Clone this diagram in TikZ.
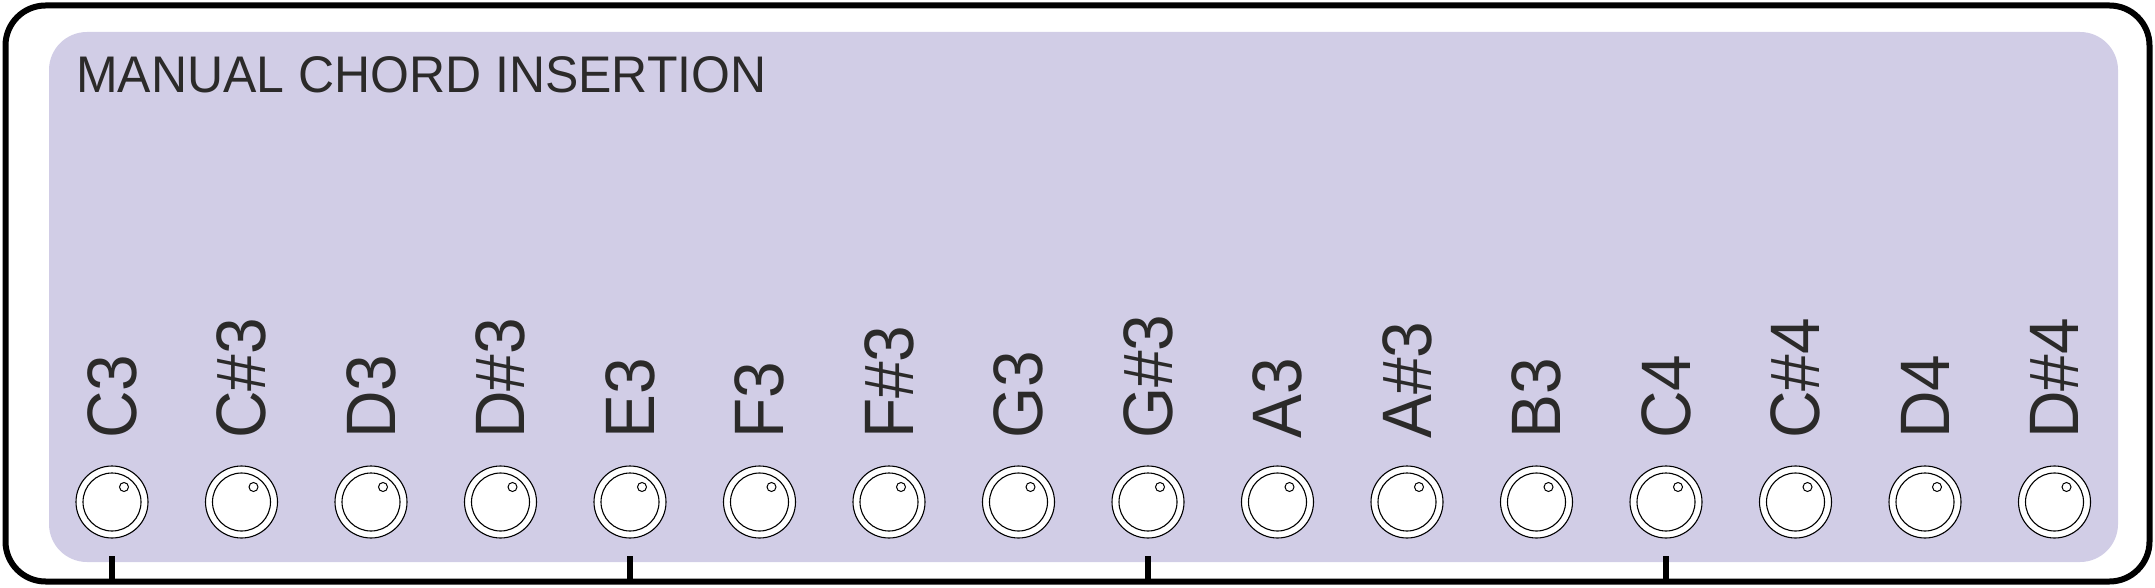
\documentclass[tikz,border=0pt]{standalone}
\usepackage{fontspec}
\setmainfont{Liberation Sans}
\newfontfamily\labfont[FakeStretch=0.94]{Liberation Sans}
\newfontfamily\titfont[FakeStretch=0.97]{Liberation Sans}
\definecolor{panel}{HTML}{D1CDE6}
\definecolor{ink}{HTML}{2B2A29}
\begin{document}
\begin{tikzpicture}[x=1pt,y=1pt,
  frame/.style={draw=black,line width=6pt,rounded corners=40pt},
  panelbox/.style={fill=panel,rounded corners=38pt},
  knobring/.style={circle,draw=black,line width=1.1pt,fill=white,minimum size=72pt,inner sep=0pt},
  knobcap/.style={circle,draw=black,line width=1.1pt,fill=white,minimum size=58pt,inner sep=0pt},
  knobdot/.style={circle,draw=black,line width=1pt,fill=white,minimum size=9pt,inner sep=0pt},
  notelabel/.style={rotate=90,anchor=base west,inner sep=0pt,text=ink,font=\labfont\fontsize{70}{70}\selectfont},
  titlelabel/.style={anchor=base west,inner sep=0pt,text=ink,font=\titfont\fontsize{51.5}{51.5}\selectfont},
  tickline/.style={draw=black,line width=6pt}]
\useasboundingbox (0,0) rectangle (2155,587);
\fill[panelbox] (49,25) rectangle (2118,555);
\node[titlelabel] (title) at (76,494) {MANUAL CHORD INSERTION};
\foreach \n [count=\i from 0] in {C3,C\#3,D3,D\#3,E3,F3,F\#3,G3,G\#3,A3,A\#3,B3,C4,C\#4,D4,D\#4}{
  \pgfmathsetmacro{\kx}{112+129.5*\i}
  \node[knobring] (k\i) at (\kx,85) {};
  \node[knobcap] (c\i) at (k\i.center) {};
  \node[knobdot] (d\i) at ([shift={(12,15)}]k\i.center) {};
  \node[notelabel] (l\i) at ([shift={(24,63)}]k\i.center) {\n};
}
\draw[frame] (5.5,5.5) rectangle (2149.5,581.5);
\foreach \i in {0,4,8,12}{
  \coordinate (ta\i) at ([yshift=-54]k\i.center);
  \coordinate (tb\i) at ([yshift=-79.5]k\i.center);
  \draw[tickline] (ta\i) -- (tb\i);
}
\end{tikzpicture}
\end{document}
